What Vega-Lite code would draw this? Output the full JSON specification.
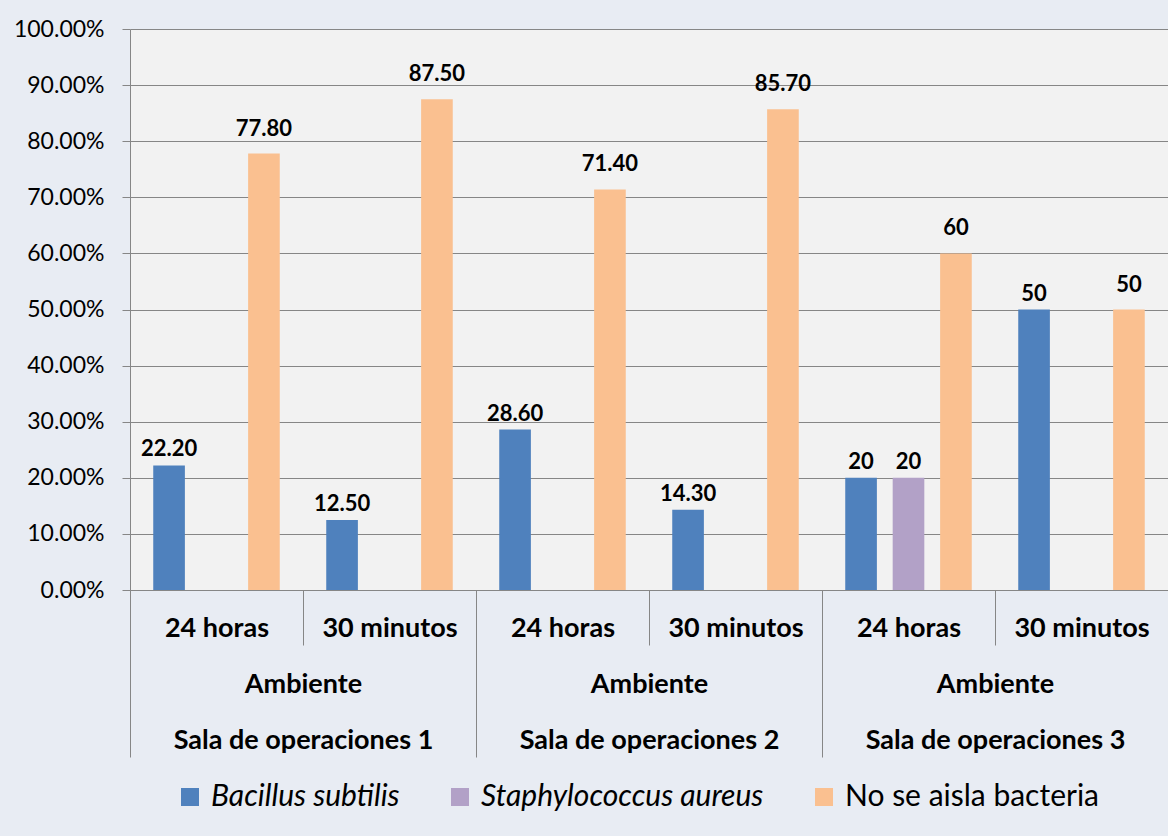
{
  "$schema": "https://vega.github.io/schema/vega-lite/v6.json",
  "width": 1038,
  "height": 561,
  "autosize": {"type": "none"},
  "padding": {"left": 130, "top": 29, "right": 0, "bottom": 246},
  "background": "#E8ECF3",
  "config": {"view": {"fill": "#F2F2F2", "stroke": null}, "font": "Lato"},
  "data": {
    "values": [
      {"grupo": "Sala de operaciones 1|24 horas", "sala": "Sala de operaciones 1", "serie": "Bacillus subtilis", "valor": 0.222, "label": "22.20"},
      {"grupo": "Sala de operaciones 1|24 horas", "sala": "Sala de operaciones 1", "serie": "No se aisla bacteria", "valor": 0.778, "label": "77.80"},
      {"grupo": "Sala de operaciones 1|30 minutos", "sala": "Sala de operaciones 1", "serie": "Bacillus subtilis", "valor": 0.125, "label": "12.50"},
      {"grupo": "Sala de operaciones 1|30 minutos", "sala": "Sala de operaciones 1", "serie": "No se aisla bacteria", "valor": 0.875, "label": "87.50"},
      {"grupo": "Sala de operaciones 2|24 horas", "sala": "Sala de operaciones 2", "serie": "Bacillus subtilis", "valor": 0.286, "label": "28.60"},
      {"grupo": "Sala de operaciones 2|24 horas", "sala": "Sala de operaciones 2", "serie": "No se aisla bacteria", "valor": 0.714, "label": "71.40"},
      {"grupo": "Sala de operaciones 2|30 minutos", "sala": "Sala de operaciones 2", "serie": "Bacillus subtilis", "valor": 0.143, "label": "14.30"},
      {"grupo": "Sala de operaciones 2|30 minutos", "sala": "Sala de operaciones 2", "serie": "No se aisla bacteria", "valor": 0.857, "label": "85.70"},
      {"grupo": "Sala de operaciones 3|24 horas", "sala": "Sala de operaciones 3", "serie": "Bacillus subtilis", "valor": 0.20, "label": "20"},
      {"grupo": "Sala de operaciones 3|24 horas", "sala": "Sala de operaciones 3", "serie": "Staphylococcus aureus", "valor": 0.20, "label": "20"},
      {"grupo": "Sala de operaciones 3|24 horas", "sala": "Sala de operaciones 3", "serie": "No se aisla bacteria", "valor": 0.60, "label": "60"},
      {"grupo": "Sala de operaciones 3|30 minutos", "sala": "Sala de operaciones 3", "serie": "Bacillus subtilis", "valor": 0.50, "label": "50"},
      {"grupo": "Sala de operaciones 3|30 minutos", "sala": "Sala de operaciones 3", "serie": "No se aisla bacteria", "valor": 0.50, "label": "50"}
    ]
  },
  "layer": [
    {
      "mark": {"type": "bar"},
      "encoding": {
        "x": {
          "field": "grupo", "type": "nominal", "sort": null,
          "scale": {"paddingInner": 0, "paddingOuter": 0},
          "axis": {
            "orient": "bottom", "title": null, "grid": false,
            "labelExpr": "datum.value ? split(datum.value, '|')[1] : ''",
            "tickBand": "extent", "tickSize": 55, "tickColor": "#868686",
            "domainColor": "#868686", "labelFontSize": 27, "labelFontWeight": "bold",
            "labelColor": "#000000", "labelBaseline": "middle", "labelPadding": -17,
            "labelAngle": 0, "labelOverlap": false, "labelLimit": 0
          }
        },
        "xOffset": {
          "field": "serie", "type": "nominal",
          "sort": ["Bacillus subtilis", "Staphylococcus aureus", "No se aisla bacteria"],
          "scale": {"domain": ["Bacillus subtilis", "Staphylococcus aureus", "No se aisla bacteria"], "paddingInner": 0.333, "paddingOuter": 0.49}
        },
        "y": {
          "field": "valor", "type": "quantitative",
          "scale": {"domain": [0, 1], "nice": false},
          "axis": {
            "title": null, "format": ".2%",
            "values": [0, 0.1, 0.2, 0.3, 0.4, 0.5, 0.6, 0.7, 0.8, 0.9, 1],
            "tickSize": 8, "labelFontSize": 23, "labelPadding": 18, "labelColor": "#000000",
            "grid": true, "gridColor": "#868686", "tickColor": "#868686", "domainColor": "#868686"
          }
        },
        "color": {
          "field": "serie", "type": "nominal",
          "scale": {
            "domain": ["Bacillus subtilis", "Staphylococcus aureus", "No se aisla bacteria"],
            "range": ["#4F81BD", "#B2A1C7", "#FAC090"]
          },
          "legend": {
            "orient": "none", "legendX": 45, "legendY": 753, "direction": "horizontal",
            "title": null, "symbolType": "square", "symbolSize": 324, "symbolStrokeWidth": 0,
            "labelFontSize": 30, "labelOffset": 6, "columnPadding": 45, "labelLimit": 0,
            "labelColor": "#000000", "padding": 0,
            "encode": {"labels": {"update": {"fontStyle": {"signal": "datum.value === 'No se aisla bacteria' ? 'normal' : 'italic'"}}}}
          }
        }
      }
    },
    {
      "transform": [{"filter": "datum.serie !== 'No se aisla bacteria'"}],
      "mark": {"type": "text", "baseline": "alphabetic", "dy": -9, "fontWeight": "bold", "fontSize": 22, "color": "#000000"},
      "encoding": {
        "x": {"field": "grupo", "type": "nominal", "sort": null, "scale": {"paddingInner": 0, "paddingOuter": 0}, "axis": null},
        "xOffset": {
          "field": "serie", "type": "nominal",
          "sort": ["Bacillus subtilis", "Staphylococcus aureus", "No se aisla bacteria"],
          "scale": {"domain": ["Bacillus subtilis", "Staphylococcus aureus", "No se aisla bacteria"], "paddingInner": 0.333, "paddingOuter": 0.49}
        },
        "y": {"field": "valor", "type": "quantitative"},
        "text": {"field": "label"}
      }
    },
    {
      "transform": [{"filter": "datum.serie === 'No se aisla bacteria'"}],
      "mark": {"type": "text", "baseline": "alphabetic", "dy": -18, "fontWeight": "bold", "fontSize": 22, "color": "#000000"},
      "encoding": {
        "x": {"field": "grupo", "type": "nominal", "sort": null, "scale": {"paddingInner": 0, "paddingOuter": 0}, "axis": null},
        "xOffset": {
          "field": "serie", "type": "nominal",
          "sort": ["Bacillus subtilis", "Staphylococcus aureus", "No se aisla bacteria"],
          "scale": {"domain": ["Bacillus subtilis", "Staphylococcus aureus", "No se aisla bacteria"], "paddingInner": 0.333, "paddingOuter": 0.49}
        },
        "y": {"field": "valor", "type": "quantitative"},
        "text": {"field": "label"}
      }
    },
    {
      "mark": {"type": "rule", "opacity": 0},
      "encoding": {
        "x": {
          "field": "sala", "type": "nominal", "sort": null,
          "scale": {"paddingInner": 0, "paddingOuter": 0},
          "axis": {
            "orient": "bottom", "title": null, "domain": false, "grid": false,
            "labelExpr": "datum.value ? ['Ambiente', datum.value] : ''",
            "tickBand": "extent", "tickSize": 167, "tickColor": "#868686",
            "labelFontSize": 27, "labelFontWeight": "bold", "labelColor": "#000000",
            "labelBaseline": "top", "labelPadding": -86, "labelLineHeight": 56,
            "labelAngle": 0, "labelOverlap": false, "labelLimit": 0
          }
        }
      }
    }
  ],
  "resolve": {"scale": {"x": "independent"}}
}
